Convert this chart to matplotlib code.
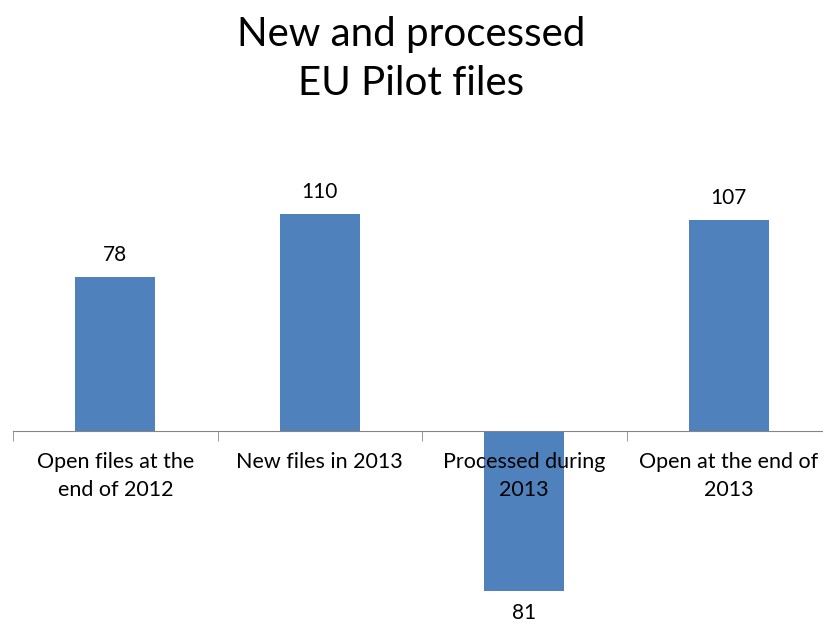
import numpy as np
import matplotlib.pyplot as plt

# Chart data
categories = ['Open files at the\nend of 2012', 'New files in 2013',
              'Processed during\n2013', 'Open at the end of\n2013']
values = [78, 110, -81, 107]

plt.rcParams['font.family'] = ['Lato', 'DejaVu Sans']

fig = plt.figure(figsize=(8.23, 6.26), dpi=100)
ax = fig.add_axes([13 / 823, 0.0032, 818 / 823, 0.7803])

x = np.arange(len(categories))
bars = ax.bar(x, values, width=0.39, color='#4F81BD', zorder=1)

# Value labels (absolute values, as in the original)
for bar, v in zip(bars, values):
    cx = bar.get_x() + bar.get_width() / 2
    if v >= 0:
        ax.annotate(f'{abs(v)}', (cx, v), xytext=(0, 9), textcoords='offset points',
                    ha='center', va='bottom', fontsize=15)
    else:
        ax.annotate(f'{abs(v)}', (cx, v), xytext=(0, -9), textcoords='offset points',
                    ha='center', va='top', fontsize=15)

ax.set_xlim(-0.5, len(categories) - 0.5)
ax.set_ylim(-98, 150)

for side in ['left', 'right', 'top']:
    ax.spines[side].set_visible(False)
ax.spines['bottom'].set_position(('data', 0))
ax.spines['bottom'].set_color('#868686')
ax.set_axisbelow(False)

ax.set_yticks([])
ax.set_xticks(x)
ax.set_xticklabels(categories, fontsize=15.5, linespacing=1.5)
ax.tick_params(axis='x', which='major', length=0, pad=15)
ax.set_xticks(np.arange(-0.5, len(categories)), minor=True)
ax.tick_params(axis='x', which='minor', length=7, color='#868686', direction='out')

fig.text(0.5, 0.975, 'New and processed\nEU Pilot files', ha='center', va='top',
         fontsize=29, linespacing=1.4)

plt.savefig('out.png', dpi=100)
